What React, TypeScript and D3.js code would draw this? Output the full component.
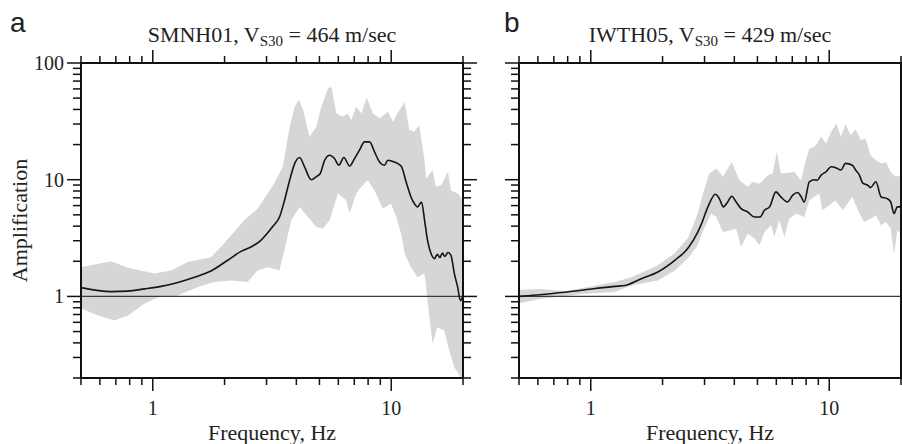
import React from "react";
import * as d3 from "d3";

// ---------- data ----------
const X_DOMAIN = [0.5, 20];
const Y_DOMAIN = [0.2, 100];
const X_TICK_LABELS = [1, 10];
const Y_TICK_LABELS = [1, 10, 100];

// Panel a: SMNH01
const A_LINE_F = [0.5, 0.669, 0.786, 0.923, 1.083, 1.193, 1.495, 1.754, 2.06, 2.344, 2.58, 2.84, 3.03, 3.19, 3.4, 3.57, 3.75, 3.94, 4.13, 4.33, 4.62, 4.85, 5.04, 5.25, 5.52, 5.78, 6.03, 6.33, 6.69, 7.02, 7.37, 7.73, 8.11, 8.51, 8.93, 9.37, 9.68, 10.3, 11.0, 11.6, 12.1, 12.5, 12.9, 13.4, 13.8, 14.2, 14.7, 15.2, 15.6, 16.0, 16.4, 16.8, 17.3, 17.8, 18.4, 19.0, 19.5, 20];
const A_LINE_V = [1.19, 1.10, 1.11, 1.16, 1.22, 1.27, 1.46, 1.65, 2.04, 2.43, 2.65, 3.02, 3.5, 3.99, 4.79, 6.67, 9.9, 13.8, 15.5, 12.9, 10.0, 10.6, 11.3, 14.6, 16.2, 15.2, 13.3, 15.5, 13.1, 15.2, 18.0, 21.1, 21.1, 17.3, 14.2, 13.3, 14.7, 14.2, 13.1, 9.28, 7.12, 6.25, 5.85, 6.45, 4.49, 3.02, 2.32, 2.11, 2.3, 2.15, 2.35, 2.2, 2.38, 2.25, 1.57, 1.2, 0.92, 1.02];

const A_UP_F = [0.5, 0.669, 0.786, 1.016, 1.193, 1.402, 1.754, 1.93, 2.42, 2.75, 3.03, 3.2, 3.51, 3.75, 3.94, 4.1, 4.27, 4.54, 4.85, 5.09, 5.43, 5.61, 5.89, 6.26, 6.58, 6.79, 7.13, 7.49, 7.9, 8.38, 8.93, 9.68, 10.2, 10.6, 11.4, 11.9, 12.5, 13.1, 13.8, 14.0, 14.9, 15.4, 16.2, 17.3, 17.8, 19.0, 20];
const A_UP_V = [1.78, 2.0, 1.76, 1.57, 1.67, 1.97, 2.17, 2.65, 4.49, 5.65, 7.6, 9.0, 12.9, 28.3, 42.1, 48.5, 39.5, 23.3, 28.3, 42.1, 60.6, 62.6, 37, 34.6, 37, 32.3, 42.1, 37, 50.6, 37, 33.5, 38.3, 31.3, 37, 46, 26.6, 25.7, 29.4, 14.7, 10.2, 12.1, 8.69, 8.96, 11.7, 8.1, 7.6, 6.67];

const A_LO_F = [0.5, 0.588, 0.69, 0.786, 0.923, 1.05, 1.27, 1.54, 1.81, 2.13, 2.5, 2.75, 3.03, 3.4, 3.63, 3.81, 4.13, 4.48, 4.85, 5.17, 5.52, 5.98, 6.47, 6.69, 7.13, 7.49, 7.97, 8.51, 9.22, 9.97, 10.5, 11.0, 11.4, 12.1, 12.9, 13.8, 14.2, 14.9, 15.6, 16.7, 17.5, 18.4, 19.3, 20];
const A_LO_V = [0.79, 0.687, 0.622, 0.687, 0.866, 0.986, 1.02, 1.2, 1.33, 1.37, 1.33, 1.67, 1.78, 1.67, 2.92, 4.49, 5.85, 4.79, 3.93, 3.81, 4.49, 7.6, 6.67, 5.13, 7.6, 8.69, 9.9, 8.1, 5.64, 6.25, 4.79, 3.45, 2.32, 1.78, 1.46, 1.57, 0.924, 0.393, 0.545, 0.51, 0.344, 0.247, 0.21, 0.19];

// Panel b: IWTH05
const B_LINE_F = [0.5, 0.663, 0.914, 1.26, 1.39, 1.63, 1.91, 2.25, 2.55, 2.81, 2.9, 3.1, 3.33, 3.46, 3.6, 3.75, 3.9, 4.07, 4.27, 4.55, 4.86, 5.13, 5.35, 5.62, 5.98, 6.27, 6.68, 7.03, 7.37, 7.61, 7.86, 8.25, 8.66, 8.9, 9.23, 9.7, 10.2, 10.7, 11.2, 11.7, 12.5, 12.9, 13.4, 13.8, 14.5, 14.9, 15.7, 16.5, 17.5, 18.1, 18.7, 19.3, 20];
const B_LINE_V = [1.0, 1.05, 1.13, 1.22, 1.24, 1.42, 1.62, 2.04, 2.57, 3.56, 4.1, 5.85, 7.5, 6.89, 5.85, 6.45, 7.21, 6.45, 5.65, 5.29, 4.79, 4.79, 5.47, 5.85, 7.87, 7.12, 6.45, 7.37, 7.76, 7.21, 6.45, 9.6, 10.0, 9.9, 10.9, 11.7, 12.9, 12.6, 12.1, 13.8, 13.3, 12.1, 10.9, 9.4, 8.96, 8.56, 9.6, 7.12, 6.89, 6.45, 5.13, 5.85, 5.85];

const B_UP_F = [0.5, 0.622, 0.778, 1.26, 1.48, 1.91, 2.25, 2.55, 2.81, 2.95, 3.14, 3.36, 3.58, 3.9, 4.2, 4.55, 4.78, 5.1, 5.53, 5.79, 6.03, 6.27, 6.8, 7.14, 7.61, 7.98, 8.25, 8.66, 8.9, 9.23, 9.7, 10.2, 10.7, 11.2, 11.7, 12.3, 12.9, 13.6, 14.2, 14.9, 15.7, 16.5, 17.3, 18.1, 19.0, 20];
const B_UP_V = [1.14, 1.16, 1.11, 1.33, 1.46, 1.85, 2.35, 3.13, 5.13, 7.5, 11.3, 12.5, 10.6, 14.2, 9.9, 8.69, 9.6, 9.25, 10.9, 11.3, 17.3, 11.3, 11.5, 11.7, 9.9, 14.7, 18.5, 19.1, 20.4, 23.3, 20.4, 25.7, 30.3, 23.3, 29.9, 24.0, 26.9, 21.8, 22.5, 16.2, 14.7, 13.8, 14.2, 11.7, 10.6, 10.9];

const B_LO_F = [0.5, 0.622, 0.914, 1.26, 1.48, 1.91, 2.25, 2.55, 2.81, 2.95, 3.2, 3.36, 3.58, 3.82, 4.07, 4.27, 4.55, 4.86, 5.1, 5.35, 5.7, 5.89, 6.18, 6.48, 6.8, 7.26, 7.86, 8.25, 9.08, 9.37, 10.0, 10.6, 11.4, 12.5, 13.4, 14.0, 14.9, 15.7, 16.5, 17.3, 18.1, 18.7, 19.3, 20];
const B_LO_V = [0.876, 0.955, 1.05, 1.09, 1.24, 1.37, 1.67, 2.11, 2.74, 3.6, 5.13, 4.79, 3.56, 3.68, 3.81, 2.65, 3.45, 3.13, 2.74, 3.56, 4.07, 3.23, 4.49, 3.23, 4.64, 5.13, 4.79, 6.67, 7.6, 5.47, 6.04, 6.67, 5.47, 7.12, 5.13, 4.34, 4.64, 4.96, 4.07, 4.34, 3.81, 2.32, 3.68, 3.45];

const TITLE_NAMES = ["SMNH01", "IWTH05"];
const TITLE_VS30 = [464, 429];
const PANEL_LETTERS = ["a", "b"];

// ---------- layout ----------
const W = 902;
const H = 444;
const TOP = 63;
const BOTTOM = 378;
const PANELS = [
  { left: 81, right: 463, letterX: 10, showYLabels: true, lf: A_LINE_F, lv: A_LINE_V, uf: A_UP_F, uv: A_UP_V, bf: A_LO_F, bv: A_LO_V },
  { left: 519, right: 901, letterX: 504, showYLabels: false, lf: B_LINE_F, lv: B_LINE_V, uf: B_UP_F, uv: B_UP_V, bf: B_LO_F, bv: B_LO_V },
];

const SERIF = "'Liberation Serif', 'DejaVu Serif', serif";
const SANS = "'Liberation Sans', Arial, sans-serif";
const isMajor = (v: number) => Math.abs(Math.log10(v) - Math.round(Math.log10(v))) < 1e-9;

function Panel({ p, i }: { p: any; i: number }) {
  const x = d3.scaleLog().domain(X_DOMAIN).range([p.left, p.right]);
  const y = d3.scaleLog().domain(Y_DOMAIN).range([BOTTOM, TOP]);
  const xt = x.ticks();
  const yt = y.ticks();

  const linePts: [number, number][] = p.lf.map((f: number, k: number) => [f, p.lv[k]]);
  const upPts: [number, number][] = p.uf.map((f: number, k: number) => [f, p.uv[k]]);
  const loPts: [number, number][] = p.bf.map((f: number, k: number) => [f, p.bv[k]]);
  const bandPts = upPts.concat(loPts.slice().reverse());

  const lineGen = d3
    .line<[number, number]>()
    .x((d) => x(d[0]))
    .y((d) => y(d[1]))
    .curve(d3.curveMonotoneX);
  const polyGen = d3
    .line<[number, number]>()
    .x((d) => x(d[0]))
    .y((d) => y(d[1]))
    .curve(d3.curveLinear);

  const clipId = `clip-${i}`;
  const cx = (p.left + p.right) / 2;

  return (
    <g>
      <defs>
        <clipPath id={clipId}>
          <rect x={p.left} y={TOP} width={p.right - p.left} height={BOTTOM - TOP} />
        </clipPath>
      </defs>
      <g clipPath={`url(#${clipId})`}>
        <path d={polyGen(bandPts) + "Z"} fill="#d5d6d8" stroke="none" />
        <line x1={p.left} x2={p.right} y1={y(1)} y2={y(1)} stroke="#3a3a3a" strokeWidth={1.4} />
        <path d={lineGen(linePts) || ""} fill="none" stroke="#151515" strokeWidth={1.6} />
      </g>
      {/* x ticks bottom & top */}
      {xt.map((t) => {
        const len = isMajor(t) ? 13 : 7;
        return (
          <g key={"x" + t}>
            <line x1={x(t)} x2={x(t)} y1={BOTTOM} y2={BOTTOM + len} stroke="#111" strokeWidth={1.5} />
            <line x1={x(t)} x2={x(t)} y1={TOP} y2={TOP - len} stroke="#111" strokeWidth={1.5} />
          </g>
        );
      })}
      {/* y ticks left & right */}
      {yt.map((t) => {
        const len = isMajor(t) ? 14 : 8;
        return (
          <g key={"y" + t}>
            <line x1={p.left} x2={p.left - len} y1={y(t)} y2={y(t)} stroke="#111" strokeWidth={1.5} />
            <line x1={p.right} x2={p.right + len} y1={y(t)} y2={y(t)} stroke="#111" strokeWidth={1.5} />
          </g>
        );
      })}
      <rect x={p.left} y={TOP} width={p.right - p.left} height={BOTTOM - TOP} fill="none" stroke="#111" strokeWidth={2} />
      {X_TICK_LABELS.map((t) => (
        <text key={"xl" + t} x={x(t)} y={415} textAnchor="middle" fontFamily={SERIF} fontSize={20} fill="#222">
          {t}
        </text>
      ))}
      {p.showYLabels &&
        Y_TICK_LABELS.map((t) => (
          <text key={"yl" + t} x={64} y={y(t) + 7} textAnchor="end" fontFamily={SERIF} fontSize={20} fill="#222">
            {t}
          </text>
        ))}
      <text x={cx} y={440} textAnchor="middle" fontFamily={SERIF} fontSize={22} fill="#222">
        Frequency, Hz
      </text>
      <text x={cx} y={42} textAnchor="middle" fontFamily={SERIF} fontSize={22} fill="#222">
        {TITLE_NAMES[i]}, V
        <tspan fontSize={15} dy={4}>S30</tspan>
        <tspan dy={-4}>{` = ${TITLE_VS30[i]} m/sec`}</tspan>
      </text>
      <text x={p.letterX} y={32} fontFamily={SANS} fontSize={28} fill="#222">
        {PANEL_LETTERS[i]}
      </text>
    </g>
  );
}

export default function App() {
  return (
    <div style={{ position: "fixed", left: 0, top: 0, width: W, height: H, background: "#fff" }}>
      <svg width={W} height={H} viewBox={`0 0 ${W} ${H}`} style={{ display: "block" }}>
        <rect width={W} height={H} fill="#fff" />
        {PANELS.map((p, i) => (
          <Panel key={i} p={p} i={i} />
        ))}
        <text
          transform={`translate(27, ${(TOP + BOTTOM) / 2}) rotate(-90)`}
          textAnchor="middle"
          fontFamily={SERIF}
          fontSize={22}
          fill="#222"
        >
          Amplification
        </text>
      </svg>
    </div>
  );
}
